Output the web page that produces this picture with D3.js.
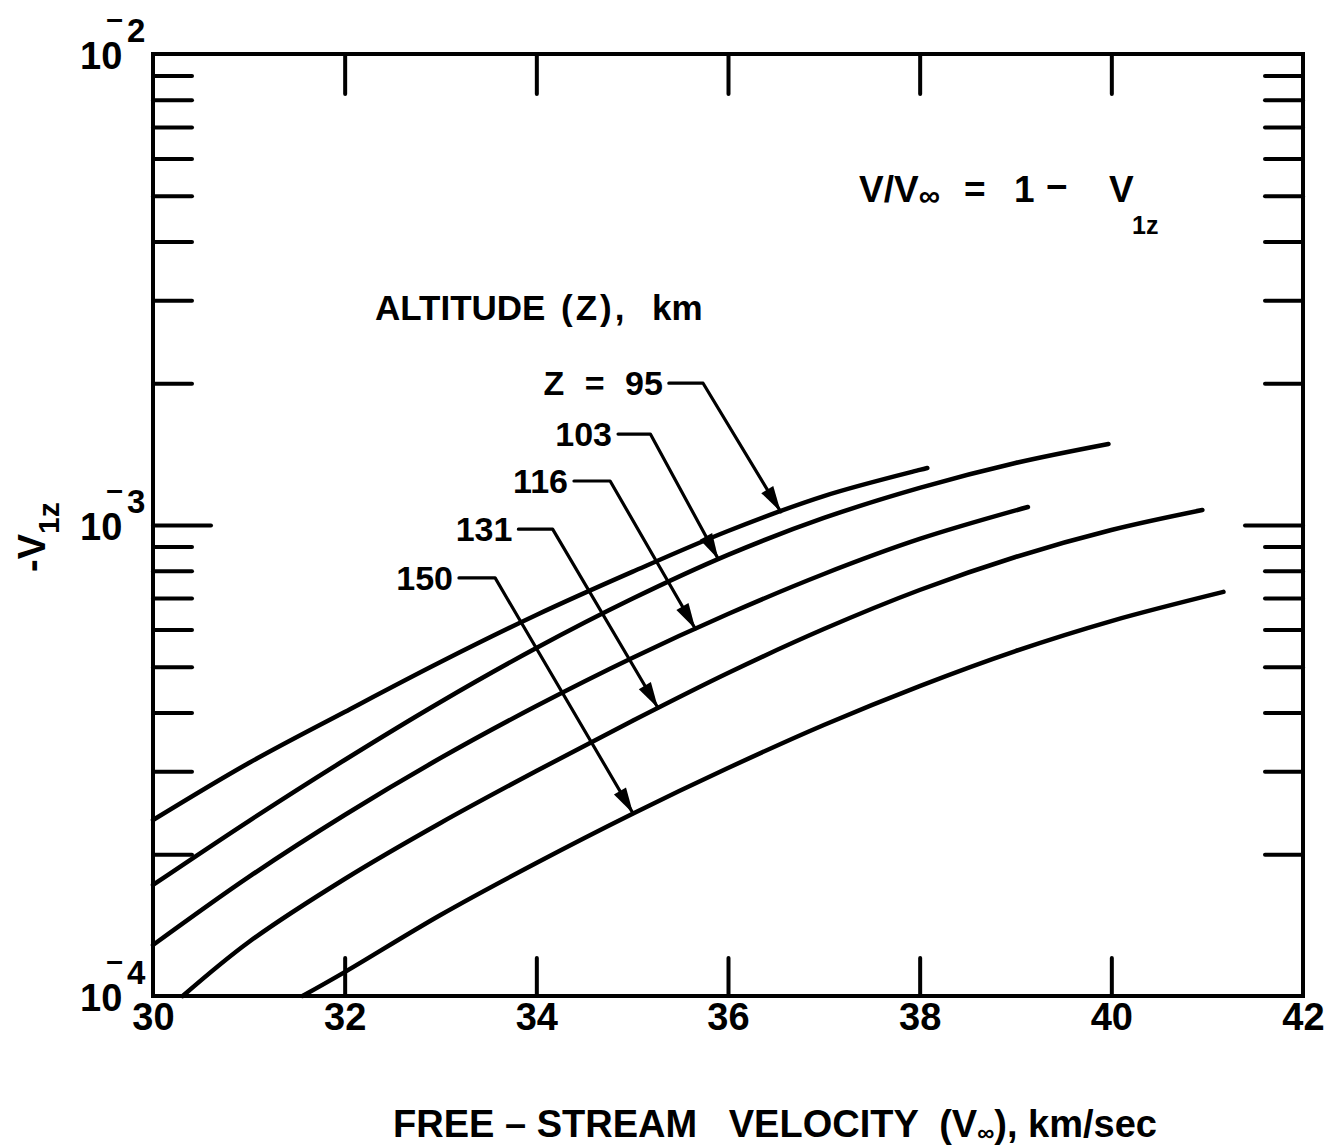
<!DOCTYPE html>
<html>
<head>
<meta charset="utf-8">
<script src="https://cdn.jsdelivr.net/npm/d3@7"></script>
<style>
  html, body { margin: 0; padding: 0; background: #fff; }
  svg { display: block; }
  text { font-family: "Liberation Sans", Arial, sans-serif; font-weight: bold; fill: #000; }
</style>
</head>
<body>
<svg id="chart" width="1328" height="1148"></svg>
<script>
// Free-stream velocity (km/sec) and -V1z for each altitude curve
const altitudes = [95, 103, 116, 131, 150];

const vel95 = [30, 31, 32, 33, 34, 35, 36, 37, 38, 38.08];
const v1z95 = [2.364e-4, 3.124e-4, 4.009e-4, 5.118e-4, 6.44e-4, 7.95e-4, 9.71e-4, 1.152e-3, 1.309e-3, 1.321e-3];

const vel103 = [30, 31, 32, 33, 34, 35, 36, 37, 38, 39, 39.97];
const v1z103 = [1.721e-4, 2.352e-4, 3.17e-4, 4.21e-4, 5.48e-4, 6.97e-4, 8.64e-4, 1.035e-3, 1.199e-3, 1.354e-3, 1.486e-3];

const vel116 = [30, 31, 32, 33, 34, 35, 36, 37, 38, 39.13];
const v1z116 = [1.283e-4, 1.790e-4, 2.423e-4, 3.20e-4, 4.127e-4, 5.22e-4, 6.471e-4, 7.87e-4, 9.34e-4, 1.092e-3];

const vel131 = [30.31, 31, 32, 33, 34, 35, 36, 37, 38, 39, 40, 40.95];
const v1z131 = [1.0e-4, 1.302e-4, 1.772e-4, 2.330e-4, 3.004e-4, 3.836e-4, 4.851e-4, 6.013e-4, 7.278e-4, 8.552e-4, 9.759e-4, 1.076e-3];

const vel150 = [31.56, 32, 33, 34, 35, 36, 37, 38, 39, 40, 41.17];
const v1z150 = [1.0e-4, 1.124e-4, 1.486e-4, 1.916e-4, 2.435e-4, 3.048e-4, 3.762e-4, 4.551e-4, 5.40e-4, 6.253e-4, 7.21e-4];

// Axis ticks
const xLabelTicks = [30, 32, 34, 36, 38, 40, 42];
const xMarkTicks = [32, 34, 36, 38, 40];
const yDecades = [1e-2, 1e-3, 1e-4];
const yDecadeExp = ["2", "3", "4"];
const yMinorTicks = [2e-4, 3e-4, 4e-4, 5e-4, 6e-4, 7e-4, 8e-4, 9e-4,
                     2e-3, 3e-3, 4e-3, 5e-3, 6e-3, 7e-3, 8e-3, 9e-3];
const yMajorInner = [1e-3];

// Curve call-outs: label text, label right end (velocity), label level, elbow and arrow tip velocity
const calloutText = ["Z = 95", "103", "116", "131", "150"];
const calloutV = [35.32, 34.79, 34.33, 33.75, 33.13];
const calloutLevel = [2.0e-3, 1.56e-3, 1.24e-3, 9.8e-4, 7.72e-4];
const calloutElbowV = [35.74, 35.19, 34.77, 34.17, 33.57];
const calloutTipV = [36.55, 35.90, 35.66, 35.27, 35.01];

const series = [
  {z: altitudes[0], vel: vel95, val: v1z95},
  {z: altitudes[1], vel: vel103, val: v1z103},
  {z: altitudes[2], vel: vel116, val: v1z116},
  {z: altitudes[3], vel: vel131, val: v1z131},
  {z: altitudes[4], vel: vel150, val: v1z150}
];

const svg = d3.select("#chart");
svg.append("rect").attr("width", 1328).attr("height", 1148).attr("fill", "#fff");

const plotLeft = 153, plotRight = 1303, plotTop = 54, plotBottom = 996;
const x = d3.scaleLinear().domain([30, 42]).range([plotLeft, plotRight]);
const y = d3.scaleLog().domain([1e-4, 1e-2]).range([plotBottom, plotTop]);

function styleTicks(g) {
  g.select(".domain").remove();
  g.selectAll(".tick line").attr("stroke", "#000").attr("stroke-width", 4).attr("stroke-linecap", "round");
  g.selectAll(".tick text").remove();
}

// Inward ticks on all four sides
svg.append("g").attr("transform", `translate(0,${plotBottom})`)
  .call(d3.axisBottom(x).tickValues(xMarkTicks).tickSize(-38)).call(styleTicks);
svg.append("g").attr("transform", `translate(0,${plotTop})`)
  .call(d3.axisTop(x).tickValues(xMarkTicks).tickSize(-40)).call(styleTicks);
svg.append("g").attr("transform", `translate(${plotLeft},0)`)
  .call(d3.axisLeft(y).tickValues(yMinorTicks).tickSize(-39)).call(styleTicks);
svg.append("g").attr("transform", `translate(${plotLeft},0)`)
  .call(d3.axisLeft(y).tickValues(yMajorInner).tickSize(-58)).call(styleTicks);
svg.append("g").attr("transform", `translate(${plotRight},0)`)
  .call(d3.axisRight(y).tickValues(yMinorTicks).tickSize(-38)).call(styleTicks);
svg.append("g").attr("transform", `translate(${plotRight},0)`)
  .call(d3.axisRight(y).tickValues(yMajorInner).tickSize(-58)).call(styleTicks);

// Frame
svg.append("rect")
  .attr("x", plotLeft).attr("y", plotTop)
  .attr("width", plotRight - plotLeft).attr("height", plotBottom - plotTop)
  .attr("fill", "none").attr("stroke", "#000").attr("stroke-width", 4);

// X tick labels
const xLab = svg.append("g").attr("transform", `translate(0,${plotBottom})`)
  .call(d3.axisBottom(x).tickValues(xLabelTicks).tickSize(0).tickPadding(0).tickFormat(d3.format("d")));
xLab.select(".domain").remove();
xLab.selectAll(".tick text")
  .attr("y", 34).attr("dy", null)
  .attr("font-size", 38).attr("font-family", "'Liberation Sans', Arial, sans-serif")
  .attr("font-weight", "bold").attr("fill", "#000");

// Y decade labels: 10 with raised negative exponent, one text element each
yDecades.forEach((d, i) => {
  const yy = y(d);
  const t = svg.append("text").attr("x", 80).attr("y", yy + 15).attr("font-size", 38);
  t.append("tspan").text("10");
  t.append("tspan").attr("font-size", 30).attr("dx", -16).attr("dy", -40).text("–");
  t.append("tspan").attr("font-size", 33).attr("dx", 4).attr("dy", 13).text(yDecadeExp[i]);
});

// Curves
const line = d3.line()
  .x(d => x(d[0]))
  .y(d => y(d[1]))
  .curve(d3.curveCatmullRom.alpha(0.5));

series.forEach(s => {
  svg.append("path")
    .datum(s.vel.map((v, i) => [v, s.val[i]]))
    .attr("d", line)
    .attr("fill", "none")
    .attr("stroke", "#000")
    .attr("stroke-width", 4.5)
    .attr("stroke-linecap", "round")
    .attr("stroke-linejoin", "round");
});

// Value of a curve at a velocity (log-linear between points)
function curveAt(s, v) {
  for (let i = 0; i < s.vel.length - 1; i++) {
    if (v >= s.vel[i] && v <= s.vel[i + 1]) {
      const t = (v - s.vel[i]) / (s.vel[i + 1] - s.vel[i]);
      return Math.pow(10, Math.log10(s.val[i]) + t * (Math.log10(s.val[i + 1]) - Math.log10(s.val[i])));
    }
  }
  return s.val[s.val.length - 1];
}

// Call-outs with leader lines and arrows
series.forEach((s, i) => {
  const tx = x(calloutV[i]);
  const ty = y(calloutLevel[i]);
  svg.append("text").attr("x", tx).attr("y", ty + 12)
    .attr("text-anchor", "end").attr("font-size", 34)
    .attr("word-spacing", 11).text(calloutText[i]);

  const ex = x(calloutElbowV[i]);
  const tipX = x(calloutTipV[i]);
  const tipY = y(curveAt(s, calloutTipV[i]));
  svg.append("polyline")
    .attr("points", `${tx + 6},${ty} ${ex},${ty} ${tipX},${tipY}`)
    .attr("fill", "none").attr("stroke", "#000").attr("stroke-width", 3.2)
    .attr("stroke-linejoin", "round").attr("stroke-linecap", "round");

  const dx = tipX - ex, dy = tipY - ty;
  const len = Math.hypot(dx, dy);
  const ux = dx / len, uy = dy / len;
  const L = 26, W = 7;
  const bx = tipX - ux * L, by = tipY - uy * L;
  svg.append("polygon")
    .attr("points", `${tipX},${tipY} ${bx - uy * W},${by + ux * W} ${bx + uy * W},${by - ux * W}`)
    .attr("fill", "#000");
});

// Legend heading
const head = svg.append("text").attr("y", 320).attr("font-size", 35);
head.append("tspan").attr("x", 375).text("ALTITUDE");
head.append("tspan").attr("x", 561).attr("letter-spacing", 3).text("(Z),");
head.append("tspan").attr("x", 652).text("km");

// Relation in upper right
const rel = svg.append("text").attr("y", 202).attr("font-size", 37);
rel.append("tspan").attr("x", 859).text("V/V");
rel.append("tspan").attr("font-size", 30).attr("dy", 4).text("∞");
rel.append("tspan").attr("x", 964).attr("dy", -4).text("=");
rel.append("tspan").attr("x", 1014).text("1");
rel.append("tspan").attr("x", 1046).attr("dy", -3).text("−");
rel.append("tspan").attr("x", 1109).attr("dy", 3).text("V");
rel.append("tspan").attr("x", 1132).attr("font-size", 25).attr("dy", 32).text("1z");

// Y axis title (rotated)
const yt = svg.append("text")
  .attr("transform", "translate(45,572) rotate(-90)")
  .attr("font-size", 38);
yt.append("tspan").text("-V");
yt.append("tspan").attr("font-size", 30).attr("dy", 14).text("1z");

// X axis title
const xt = svg.append("text").attr("x", 775).attr("y", 1137).attr("text-anchor", "middle")
  .attr("font-size", 38).attr("xml:space", "preserve");
xt.append("tspan").text("FREE – STREAM   VELOCITY  (V");
xt.append("tspan").attr("font-size", 24).attr("dy", 4).text("∞");
xt.append("tspan").attr("dy", -4).text("), km/sec");
</script>
</body>
</html>
